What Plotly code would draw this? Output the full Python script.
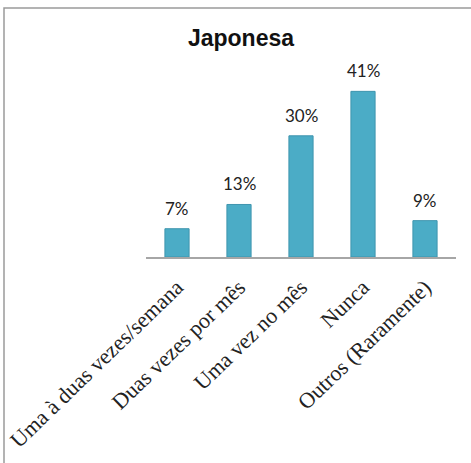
import plotly.graph_objects as go

categorias = ["Uma à duas vezes/semana", "Duas vezes por mês", "Uma vez no mês",
              "Nunca", "Outros (Raramente)"]
percentuais = [7, 13, 30, 41, 9]
rotulos = ["7%", "13%", "30%", "41%", "9%"]

W, H = 471, 463
L, R, T, B = 146, 15, 55, 206
plot_w = W - L - R
plot_h = H - T - B
y_max = 50

fig = go.Figure()
fig.add_trace(go.Bar(
    x=categorias, y=percentuais, width=0.39,
    marker=dict(color="#4BACC6", line=dict(color="#3F95AE", width=1)),
    hoverinfo="skip",
))

for cat, val, txt in zip(categorias, percentuais, rotulos):
    fig.add_annotation(x=cat, y=val, text=txt, showarrow=False,
                       yanchor="bottom", yshift=8,
                       font=dict(family="Lato", size=17, color="#222222"))

# outer frame of the chart area
px = lambda p: (p - L) / plot_w
py = lambda p: (H - B - p) / plot_h
fig.add_shape(type="rect", xref="paper", yref="paper",
              x0=px(4), x1=px(480), y0=py(480), y1=py(8),
              line=dict(color="#9A9A9A", width=1.5), fillcolor="rgba(0,0,0,0)")

fig.update_layout(
    width=W, height=H,
    margin=dict(l=L, r=R, t=T, b=B),
    paper_bgcolor="white", plot_bgcolor="white",
    showlegend=False,
    title=dict(text="<b>Japonesa</b>", x=241 / W, xanchor="center",
               y=1 - 38 / H, yanchor="middle",
               font=dict(family="Liberation Sans", size=23, color="#111111")),
    bargap=0.6,
    xaxis=dict(tickangle=-44, showline=True, linecolor="#A6A6A6", linewidth=1.5,
               ticks="", ticklabelstandoff=7, automargin=False,
               tickfont=dict(family="Liberation Serif", size=22, color="#222222"),
               showgrid=False, range=[-0.5, 4.5]),
    yaxis=dict(range=[0, y_max], visible=False, showgrid=False, zeroline=False,
               automargin=False),
)

fig.write_html("out.html")
